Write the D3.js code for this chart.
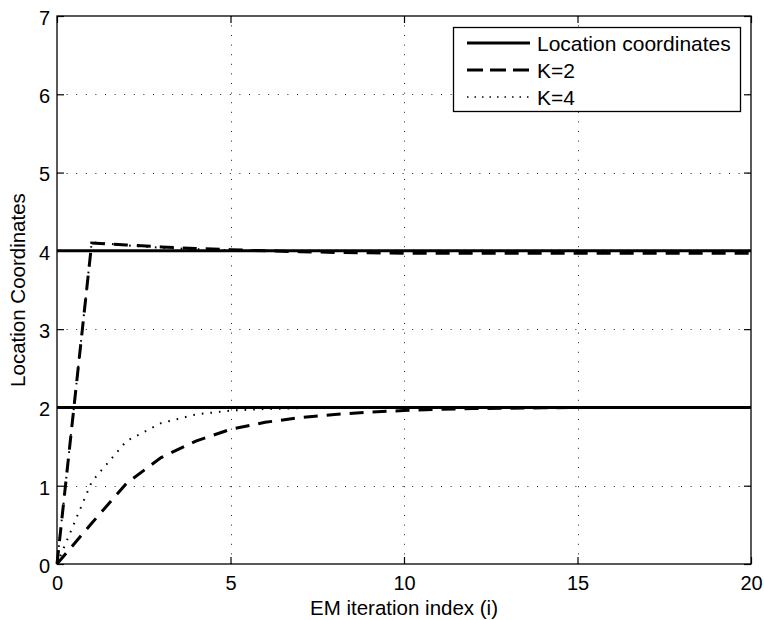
<!DOCTYPE html>
<html>
<head>
<meta charset="utf-8">
<script src="https://cdn.jsdelivr.net/npm/d3@7"></script>
<style>
  html, body { margin: 0; padding: 0; background: #fff; }
  text { font-family: "Liberation Sans", Arial, Helvetica, sans-serif; fill: #000; }
</style>
</head>
<body>
<svg id="chart" width="764" height="620"></svg>
<script>
// EM iteration index
const iterations = [0, 1, 2, 3, 4, 5, 6, 7, 8, 9, 10, 11, 12, 13, 14, 15, 16, 17, 18, 19, 20];

// True location coordinates
const trueCoordinates = [2, 4];

// Estimates with K=2
const k2Upper = [0, 4.10, 4.075, 4.05, 4.03, 4.015, 4.0, 3.99, 3.98, 3.975, 3.97, 3.97, 3.97, 3.97, 3.97, 3.97, 3.97, 3.97, 3.97, 3.97, 3.97];
const k2Lower = [0, 0.52, 1.03, 1.36, 1.57, 1.72, 1.81, 1.87, 1.91, 1.94, 1.96, 1.975, 1.985, 1.99, 1.995, 2.0, 2.0, 2.0, 2.0, 2.0, 2.0];

// Estimates with K=4
const k4Upper = [0, 4.11, 4.07, 4.04, 4.02, 4.01, 4.0, 4.0, 4.0, 4.0, 4.0, 4.0, 4.0, 4.0, 4.0, 4.0, 4.0, 4.0, 4.0, 4.0, 4.0];
const k4Lower = [0, 1.05, 1.57, 1.80, 1.91, 1.96, 1.98, 1.99, 2.0, 2.0, 2.0, 2.0, 2.0, 2.0, 2.0, 2.0, 2.0, 2.0, 2.0, 2.0, 2.0];

const xTicks = [0, 5, 10, 15, 20];
const yTicks = [0, 1, 2, 3, 4, 5, 6, 7];

const legendLabels = ["Location coordinates", "K=2", "K=4"];

const svg = d3.select("#chart");
const margin = { left: 57, top: 16, right: 13, bottom: 56 };
const W = 764, H = 620;
const x = d3.scaleLinear().domain([0, 20]).range([margin.left, W - margin.right]);
const y = d3.scaleLinear().domain([0, 7]).range([H - margin.bottom, margin.top]);

const x0 = x.range()[0], x1 = x.range()[1];
const y0 = y.range()[0], y1 = y.range()[1];

// Dotted grid
const grid = svg.append("g").attr("stroke", "#222").attr("stroke-width", 1).attr("stroke-dasharray", "1,8.6");
grid.selectAll("line.gx").data(xTicks.slice(1, -1)).join("line")
  .attr("x1", d => Math.round(x(d)) + 0.5).attr("x2", d => Math.round(x(d)) + 0.5)
  .attr("y1", y0).attr("y2", y1);
grid.selectAll("line.gy").data(yTicks.slice(1, -1)).join("line")
  .attr("y1", d => Math.round(y(d)) + 0.5).attr("y2", d => Math.round(y(d)) + 0.5)
  .attr("x1", x0).attr("x2", x1);

const line = d3.line().x((d, i) => x(iterations[i])).y(d => y(d));

// True coordinates (solid)
svg.append("g").selectAll("line").data(trueCoordinates).join("line")
  .attr("x1", x0).attr("x2", x1)
  .attr("y1", d => y(d)).attr("y2", d => y(d))
  .attr("stroke", "#000").attr("stroke-width", 3);

// K=2 (dashed)
svg.append("g").selectAll("path").data([k2Upper, k2Lower]).join("path")
  .attr("d", line).attr("fill", "none").attr("stroke", "#000")
  .attr("stroke-width", 3).attr("stroke-dasharray", "14,9");

// K=4 (dotted)
svg.append("g").selectAll("path").data([k4Upper, k4Lower]).join("path")
  .attr("d", line).attr("fill", "none").attr("stroke", "#000")
  .attr("stroke-width", 2).attr("stroke-dasharray", "1.6,7");

// Axes frame
svg.append("rect").attr("x", x0).attr("y", y1).attr("width", x1 - x0).attr("height", y0 - y1)
  .attr("fill", "none").attr("stroke", "#000").attr("stroke-width", 1.3);

// Ticks on all four sides, pointing inward
const tickLen = 7;
const bottomAxis = d3.axisBottom(x).tickValues(xTicks).tickSize(-tickLen).tickPadding(12).tickFormat(d3.format("d"));
const topAxis = d3.axisTop(x).tickValues(xTicks).tickSize(-tickLen).tickFormat("");
const leftAxis = d3.axisLeft(y).tickValues(yTicks).tickSize(-tickLen).tickPadding(7).tickFormat(d3.format("d"));
const rightAxis = d3.axisRight(y).tickValues(yTicks).tickSize(-tickLen).tickFormat("");

function styleAxis(g) {
  g.select(".domain").remove();
  g.selectAll(".tick line").attr("stroke", "#000").attr("stroke-width", 1.2);
  g.selectAll(".tick text").attr("font-size", 20).attr("font-family", "Liberation Sans, Arial, sans-serif").attr("fill", "#000");
}
svg.append("g").attr("transform", `translate(0,${y0})`).call(bottomAxis).call(styleAxis);
svg.append("g").attr("transform", `translate(0,${y1})`).call(topAxis).call(styleAxis);
svg.append("g").attr("transform", `translate(${x0},0)`).call(leftAxis).call(styleAxis)
  .selectAll(".tick text").attr("dy", "0.42em");
svg.append("g").attr("transform", `translate(${x1},0)`).call(rightAxis).call(styleAxis);

// Axis titles
svg.append("text").attr("x", (x0 + x1) / 2).attr("y", 615).attr("text-anchor", "middle")
  .attr("font-size", 20.5).text("EM iteration index (i)");
svg.append("text").attr("transform", `translate(25,${(y0 + y1) / 2}) rotate(-90)`)
  .attr("text-anchor", "middle").attr("font-size", 20.5).text("Location Coordinates");

// Legend
const legend = svg.append("g");
legend.append("rect").attr("x", 453.5).attr("y", 27.5).attr("width", 287).attr("height", 84)
  .attr("fill", "#fff").attr("stroke", "#000").attr("stroke-width", 1.3);
const legendStyles = [
  { width: 3, dash: null },
  { width: 3, dash: "16,7" },
  { width: 1.5, dash: "1.5,6" }
];
const rows = legend.selectAll("g.row").data(legendLabels).join("g")
  .attr("transform", (d, i) => `translate(0,${43 + i * 27})`);
rows.append("line").attr("x1", 467).attr("x2", 530).attr("y1", 0).attr("y2", 0)
  .attr("stroke", "#000")
  .attr("stroke-width", (d, i) => legendStyles[i].width)
  .attr("stroke-dasharray", (d, i) => legendStyles[i].dash);
rows.append("text").attr("x", 537).attr("y", 0).attr("dy", "0.36em")
  .attr("font-size", 21).text(d => d);
</script>
</body>
</html>
